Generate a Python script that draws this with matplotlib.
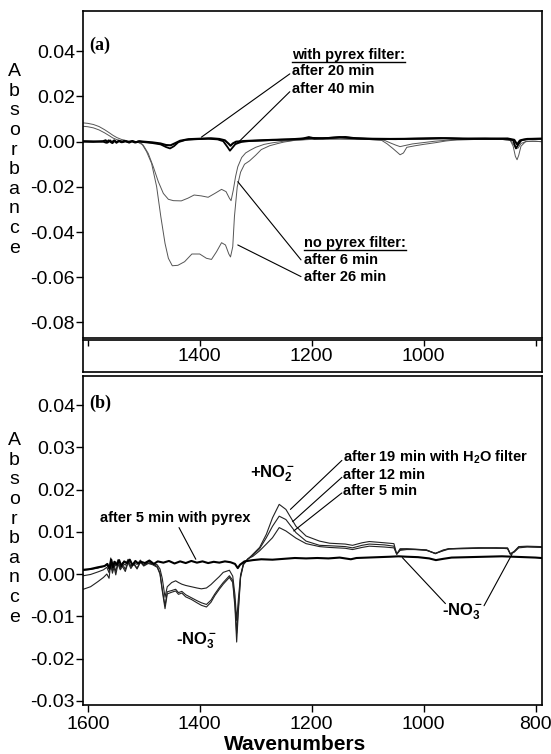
import numpy as np
import matplotlib
matplotlib.use("Agg")
import matplotlib.pyplot as plt
from matplotlib.ticker import FormatStrFormatter
from matplotlib.lines import Line2D

plt.rcParams['font.family'] = ['Liberation Sans', 'DejaVu Sans']
plt.rcParams['axes.unicode_minus'] = False
plt.rcParams['mathtext.fontset'] = 'custom'
plt.rcParams['mathtext.rm'] = 'Liberation Sans:bold'
plt.rcParams['mathtext.it'] = 'Liberation Sans:bold'
plt.rcParams['mathtext.bf'] = 'Liberation Sans:bold'

# ---------------- panel (a) spectra ----------------
a_n6_wn = [1608, 1600, 1590, 1580, 1570, 1562, 1555, 1548, 1540, 1530, 1520, 1510, 1501, 1492,
           1483, 1474, 1465, 1456, 1447, 1433, 1421, 1410, 1397, 1385, 1373, 1361, 1353, 1347,
           1344, 1340, 1336, 1332, 1325, 1318, 1310, 1300, 1285, 1270, 1250, 1220, 1200, 1150,
           1100, 1070, 1060, 1050, 1042, 1035, 1020, 1000, 980, 950, 900, 860, 845, 840, 835,
           831, 826, 815, 800, 790]
a_n6 = [0.0068, 0.0066, 0.0061, 0.0052, 0.0039, 0.0027, 0.0016, 0.0009, 0.0004, 0.0001, 0.0000,
        -0.0003, -0.0015, -0.0052, -0.0111, -0.0177, -0.0229, -0.0255, -0.0261, -0.0262, -0.0250,
        -0.0236, -0.0240, -0.0246, -0.0229, -0.0211, -0.0221, -0.0250, -0.0261, -0.0214, -0.0155,
        -0.0111, -0.0070, -0.0050, -0.0038, -0.0025, -0.0012, -0.0005, 0.0002, 0.0008, 0.0012,
        0.0012, 0.0010, 0.0006, -0.0005, -0.0015, -0.0022, -0.0018, -0.0010, -0.0004, 0.0002,
        0.0008, 0.0010, 0.0010, 0.0006, -0.0010, -0.0030, -0.0028, -0.0008, 0.0002, 0.0002, 0.0000]

a_n26_wn = [1608, 1600, 1590, 1580, 1570, 1562, 1555, 1548, 1540, 1530, 1520, 1512, 1504, 1495,
            1486, 1477, 1469.5, 1462, 1456, 1449, 1439, 1427, 1414, 1400, 1388, 1379, 1370, 1361,
            1354, 1348, 1345, 1341, 1338, 1333, 1327, 1320, 1311, 1300, 1290, 1275, 1260, 1250,
            1230, 1200, 1150, 1100, 1075, 1065, 1055, 1048, 1042, 1036, 1030, 1015, 1000, 980,
            960, 940, 900, 860, 845, 840, 836, 833, 830, 826, 818, 805, 790]
a_n26 = [0.0083, 0.0081, 0.0076, 0.0067, 0.0053, 0.0040, 0.0028, 0.0018, 0.0010, 0.0004, 0.0001,
         -0.0002, -0.0007, -0.0044, -0.0096, -0.0199, -0.0332, -0.0450, -0.0516, -0.0549, -0.0547,
         -0.0531, -0.0497, -0.0497, -0.0516, -0.0521, -0.0487, -0.0447, -0.0457, -0.0497, -0.0510,
         -0.0465, -0.0332, -0.0200, -0.0135, -0.0100, -0.0085, -0.0060, -0.0035, -0.0018, -0.0008,
         -0.0002, 0.0006, 0.0010, 0.0012, 0.0010, 0.0006, -0.0010, -0.0030, -0.0045, -0.0058,
         -0.0050, -0.0025, -0.0018, -0.0012, -0.0005, 0.0003, 0.0008, 0.0010, 0.0010, 0.0005,
         -0.0020, -0.0065, -0.0080, -0.0060, -0.0020, 0.0000, 0.0002, 0.0000]

a_p20_wn = [1608, 1590, 1575, 1568, 1565, 1560, 1556, 1552, 1548, 1544, 1538, 1532, 1526, 1520,
            1514, 1508, 1500, 1485, 1470, 1460, 1452, 1445, 1435, 1420, 1400, 1380, 1365, 1355,
            1348, 1345, 1341, 1335, 1320, 1300, 1270, 1240, 1215, 1205, 1195, 1170, 1150, 1130,
            1100, 1060, 1000, 960, 920, 880, 850, 838, 833, 828, 815, 790]
a_p20 = [0.0002, 0.0001, 0.0000, 0.0006, -0.0004, 0.0005, -0.0006, 0.0004, -0.0003, 0.0003,
         -0.0002, 0.0002, -0.0004, 0.0003, -0.0003, 0.0002, 0.0000, -0.0003, -0.0008, -0.0015,
         -0.0016, -0.0008, 0.0004, 0.0011, 0.0013, 0.0015, 0.0012, 0.0006, -0.0010, -0.0018,
         -0.0008, 0.0000, 0.0003, 0.0005, 0.0008, 0.0010, 0.0014, 0.0020, 0.0014, 0.0016, 0.0020,
         0.0016, 0.0013, 0.0012, 0.0013, 0.0015, 0.0013, 0.0013, 0.0014, 0.0008, -0.0012, 0.0005,
         0.0012, 0.0013]

a_p40_wn = [1608, 1590, 1575, 1567, 1563, 1558, 1553, 1549, 1545, 1540, 1535, 1528, 1522, 1516,
            1510, 1500, 1485, 1470, 1460, 1453, 1446, 1438, 1425, 1405, 1385, 1368, 1358, 1350,
            1346, 1342, 1336, 1325, 1310, 1280, 1250, 1220, 1200, 1180, 1160, 1140, 1120, 1090,
            1050, 1010, 970, 930, 890, 850, 840, 835, 830, 825, 810, 790]
a_p40 = [0.0000, -0.0001, 0.0002, -0.0005, 0.0006, -0.0004, 0.0006, -0.0005, 0.0004, -0.0003,
         0.0004, -0.0002, 0.0002, -0.0004, 0.0001, -0.0002, -0.0006, -0.0012, -0.0024, -0.0030,
         -0.0020, -0.0002, 0.0008, 0.0011, 0.0013, 0.0010, 0.0002, -0.0025, -0.0040, -0.0028,
         -0.0010, -0.0001, 0.0003, 0.0006, 0.0009, 0.0012, 0.0017, 0.0015, 0.0018, 0.0021, 0.0015,
         0.0012, 0.0011, 0.0014, 0.0016, 0.0013, 0.0014, 0.0012, 0.0006, -0.0030, -0.0010, 0.0008,
         0.0012, 0.0013]

# ---------------- panel (b) spectra ----------------
b_py_wn = [1608, 1595, 1582, 1570, 1565, 1561, 1558, 1555, 1552, 1548, 1544, 1540, 1535, 1530,
           1525, 1520, 1515, 1510, 1505, 1498, 1490, 1482, 1475, 1465, 1455, 1445, 1435, 1425,
           1415, 1405, 1395, 1385, 1375, 1365, 1355, 1345, 1337, 1332, 1328, 1320, 1305, 1290,
           1270, 1250, 1230, 1210, 1190, 1170, 1150, 1130, 1120, 1100, 1080, 1060, 1045, 1030,
           1010, 990, 978, 965, 950, 920, 890, 860, 840, 820, 800, 790]
b_py = [0.0010, 0.0012, 0.0016, 0.0019, 0.0024, 0.0012, 0.0034, 0.0016, 0.0029, 0.0022, 0.0033,
        0.0019, 0.0030, 0.0026, 0.0034, 0.0021, 0.0031, 0.0025, 0.0029, 0.0026, 0.0032, 0.0024,
        0.0030, 0.0027, 0.0031, 0.0025, 0.0030, 0.0026, 0.0031, 0.0027, 0.0030, 0.0026, 0.0029,
        0.0027, 0.0030, 0.0028, 0.0024, 0.0014, 0.0022, 0.0030, 0.0033, 0.0035, 0.0034, 0.0036,
        0.0038, 0.0037, 0.0038, 0.0037, 0.0039, 0.0035, 0.0038, 0.0039, 0.0040, 0.0041, 0.0042,
        0.0041, 0.0040, 0.0037, 0.0033, 0.0036, 0.0039, 0.0040, 0.0041, 0.0042, 0.0041, 0.0040,
        0.0039, 0.0038]

b_wn = [1608, 1595, 1582, 1572, 1566, 1562, 1559, 1556, 1553, 1550, 1546, 1542, 1538, 1533,
        1528, 1523, 1518, 1512, 1506, 1500, 1492, 1484, 1476, 1471, 1467, 1462, 1458, 1450, 1443,
        1438, 1432, 1425, 1415, 1405, 1397, 1388, 1380, 1373, 1365, 1358, 1347, 1341, 1337, 1334,
        1331, 1327, 1322, 1314, 1305, 1293, 1281, 1270, 1258, 1246, 1228, 1210, 1186, 1168, 1140,
        1127, 1110, 1097, 1070, 1053, 1048, 1042, 1030, 1014, 995, 979, 965, 955, 930, 901, 870,
        850, 845, 838, 830, 815, 790]
b_5min = [0.0009, 0.0011, 0.0014, 0.0018, 0.0022, 0.0012, 0.0038, 0.0008, 0.0030, 0.0019, 0.0034,
          0.0013, 0.0027, 0.0021, 0.0035, 0.0017, 0.0026, 0.0023, 0.0033, 0.0020, 0.0029, 0.0025,
          0.0022, 0.0012, -0.0010, -0.0055, -0.0030, -0.0020, -0.0016, -0.0020, -0.0024, -0.0027,
          -0.0030, -0.0033, -0.0035, -0.0033, -0.0025, -0.0016, -0.0006, 0.0004, 0.0009, -0.0005,
          -0.0050, -0.0110, -0.0060, -0.0002, 0.0024, 0.0036, 0.0042, 0.0055, 0.0071, 0.0086,
          0.0110, 0.0102, 0.0085, 0.0072, 0.0065, 0.0063, 0.0061, 0.0058, 0.0063, 0.0066, 0.0064,
          0.0062, 0.0047, 0.0056, 0.0058, 0.0058, 0.0056, 0.0049, 0.0055, 0.0059, 0.0060, 0.0061,
          0.0062, 0.0060, 0.0047, 0.0052, 0.0062, 0.0064, 0.0063]
b_12min = [-0.0004, -0.0001, 0.0005, 0.0010, 0.0016, 0.0003, 0.0030, 0.0009, 0.0022, 0.0006,
           0.0029, 0.0015, 0.0024, 0.0011, 0.0030, 0.0019, 0.0025, 0.0014, 0.0029, 0.0022, 0.0026,
           0.0024, 0.0018, 0.0002, -0.0035, -0.0075, -0.0042, -0.0039, -0.0036, -0.0044, -0.0041,
           -0.0049, -0.0056, -0.0063, -0.0068, -0.0072, -0.0062, -0.0047, -0.0032, -0.0020,
           -0.0004, -0.0015, -0.0070, -0.0140, -0.0080, -0.0005, 0.0023, 0.0036, 0.0045, 0.0060,
           0.0086, 0.0113, 0.0137, 0.0129, 0.0098, 0.0078, 0.0068, 0.0067, 0.0065, 0.0062, 0.0068,
           0.0071, 0.0069, 0.0066, 0.0047, 0.0058, 0.0059, 0.0058, 0.0057, 0.0048, 0.0056, 0.0060,
           0.0061, 0.0062, 0.0061, 0.0061, 0.0047, 0.0053, 0.0064, 0.0065, 0.0064]
b_19min = [-0.0036, -0.0030, -0.0018, -0.0008, 0.0000, -0.0010, 0.0024, 0.0002, 0.0016, -0.0002,
           0.0024, 0.0010, 0.0018, 0.0006, 0.0027, 0.0013, 0.0024, 0.0012, 0.0028, 0.0019, 0.0025,
           0.0022, 0.0016, 0.0000, -0.0039, -0.0082, -0.0047, -0.0043, -0.0040, -0.0048, -0.0045,
           -0.0054, -0.0060, -0.0068, -0.0074, -0.0078, -0.0067, -0.0051, -0.0036, -0.0024,
           -0.0008, -0.0020, -0.0080, -0.0161, -0.0090, -0.0008, 0.0022, 0.0035, 0.0047, 0.0063,
           0.0094, 0.0133, 0.0165, 0.0153, 0.0113, 0.0090, 0.0078, 0.0073, 0.0071, 0.0068, 0.0074,
           0.0077, 0.0074, 0.0072, 0.0047, 0.0060, 0.0060, 0.0059, 0.0057, 0.0049, 0.0057, 0.0060,
           0.0061, 0.0062, 0.0062, 0.0062, 0.0048, 0.0054, 0.0065, 0.0066, 0.0065]

x_ticks = [1600, 1400, 1200, 1000, 800]
a_yticks = [-0.08, -0.06, -0.04, -0.02, 0.00, 0.02, 0.04]
b_yticks = [-0.03, -0.02, -0.01, 0.00, 0.01, 0.02, 0.03, 0.04]

ann_font = dict(fontsize=10.5, fontweight='bold')
lead = dict(arrowstyle='-', lw=0.8, color='black', shrinkA=0, shrinkB=0)

fig = plt.figure(figsize=(5.51, 7.54), dpi=100)
ax_a = fig.add_axes([0.1512, 0.5513, 0.8319, 0.4341])
band = fig.add_axes([0.1512, 0.5066, 0.8319, 0.0422])
ax_b = fig.add_axes([0.1512, 0.0650, 0.8319, 0.4364])

for ax in (ax_a, band, ax_b):
    ax.set_xlim(1608, 789)
    for s in ax.spines.values():
        s.set_linewidth(1.2)

# panel (a)
ax_a.plot(a_n6_wn, a_n6, color='#555555', lw=0.7)
ax_a.plot(a_n26_wn, a_n26, color='#555555', lw=0.7)
ax_a.plot(a_p20_wn, a_p20, color='black', lw=1.5)
ax_a.plot(a_p40_wn, a_p40, color='black', lw=1.3)
ax_a.set_ylim(-0.087, 0.0578)
ax_a.set_yticks(a_yticks)
ax_a.yaxis.set_major_formatter(FormatStrFormatter('%.2f'))
ax_a.tick_params(axis='y', direction='out', length=5, width=1, pad=1, labelsize=14)
ax_a.tick_params(axis='x', bottom=False, labelbottom=False)
ax_a.set_ylabel('\n'.join('Absorbance'), rotation=0, fontsize=14, linespacing=1.2,
                ha='center', va='center', multialignment='center')
ax_a.yaxis.set_label_coords(-0.151, 0.545)
ax_a.text(1597, 0.0425, '(a)', family='Liberation Serif', fontweight='bold', fontsize=13,
          ha='left', va='center')

t_with = ax_a.text(1235, 0.0384, 'with pyrex filter:', ha='left', va='center', **ann_font)
ax_a.text(1235, 0.0311, 'after 20 min', ha='left', va='center', **ann_font)
ax_a.text(1235, 0.0235, 'after 40 min', ha='left', va='center', **ann_font)
t_no = ax_a.text(1213, -0.0450, 'no pyrex filter:', ha='left', va='center', **ann_font)
ax_a.text(1213, -0.0523, 'after 6 min', ha='left', va='center', **ann_font)
ax_a.text(1213, -0.0597, 'after 26 min', ha='left', va='center', **ann_font)
ax_a.annotate('', xy=(1397, 0.0020), xytext=(1239, 0.0300), arrowprops=lead)
ax_a.annotate('', xy=(1334, -0.0010), xytext=(1239, 0.0221), arrowprops=lead)
ax_a.annotate('', xy=(1332, -0.0177), xytext=(1219, -0.0523), arrowprops=lead)
ax_a.annotate('', xy=(1332, -0.0457), xytext=(1219, -0.0597), arrowprops=lead)

# x tick band under panel (a)
band.set_ylim(0, 1)
band.set_yticks([])
band.set_xticks(x_ticks)
band.set_xticklabels(['', '1400', '1200', '1000', ''])
band.tick_params(axis='x', top=True, bottom=False, labeltop=False, labelbottom=True,
                 direction='in', length=4, width=1, pad=-17, labelsize=14)

# panel (b)
ax_b.plot(b_wn, b_5min, color='#222222', lw=0.8)
ax_b.plot(b_wn, b_12min, color='#222222', lw=0.8)
ax_b.plot(b_wn, b_19min, color='#222222', lw=0.8)
ax_b.plot(b_py_wn, b_py, color='black', lw=1.5)
ax_b.set_ylim(-0.031, 0.0469)
ax_b.set_yticks(b_yticks)
ax_b.yaxis.set_major_formatter(FormatStrFormatter('%.2f'))
ax_b.tick_params(axis='y', direction='out', length=5, width=1, pad=1, labelsize=14)
ax_b.set_xticks(x_ticks)
ax_b.tick_params(axis='x', direction='out', length=5, width=1, pad=3, labelsize=14)
ax_b.set_ylabel('\n'.join('Absorbance'), rotation=0, fontsize=14, linespacing=1.2,
                ha='center', va='center', multialignment='center')
ax_b.yaxis.set_label_coords(-0.151, 0.535)
ax_b.set_xlabel('Wavenumbers', fontsize=15, fontweight='bold', va='center')
ax_b.xaxis.set_label_coords(0.462, -0.121)
ax_b.text(1597, 0.0405, '(b)', family='Liberation Serif', fontweight='bold', fontsize=13,
          ha='left', va='center')

ax_b.text(1578, 0.0133, 'after 5 min with pyrex', ha='left', va='center', **ann_font)
ax_b.annotate('', xy=(1407, 0.0035), xytext=(1437, 0.0110), arrowprops=lead)
ax_b.text(1270, 0.0238, '+NO$_2^-$', ha='center', va='center', fontsize=12, fontweight='bold')
ax_b.text(1144, 0.0276, 'after 19 min with H$_2$O filter', ha='left', va='center', **ann_font)
ax_b.text(1144, 0.0235, 'after 12 min', ha='left', va='center', **ann_font)
ax_b.text(1144, 0.0196, 'after 5 min', ha='left', va='center', **ann_font)
ax_b.annotate('', xy=(1238, 0.0153), xytext=(1146, 0.0269), arrowprops=lead)
ax_b.annotate('', xy=(1234, 0.0124), xytext=(1146, 0.0229), arrowprops=lead)
ax_b.annotate('', xy=(1232, 0.0102), xytext=(1146, 0.0192), arrowprops=lead)
ax_b.text(1443, -0.0157, '-NO$_3^-$', ha='left', va='center', fontsize=12, fontweight='bold')
ax_b.text(967, -0.0090, '-NO$_3^-$', ha='left', va='center', fontsize=12, fontweight='bold')
ax_b.annotate('', xy=(1038, 0.0039), xytext=(961, -0.0070), arrowprops=lead)
ax_b.annotate('', xy=(842, 0.0047), xytext=(892, -0.0075), arrowprops=lead)

# underline the two group headings
fig.canvas.draw()
inv = fig.transFigure.inverted()
for t in (t_with, t_no):
    bb = t.get_window_extent()
    (x0, y0), (x1, _) = inv.transform([(bb.x0, bb.y0), (bb.x1, bb.y1)])
    fig.add_artist(Line2D([x0, x1], [y0, y0], color='black', lw=1.0))

fig.savefig('out.png', dpi=100)
